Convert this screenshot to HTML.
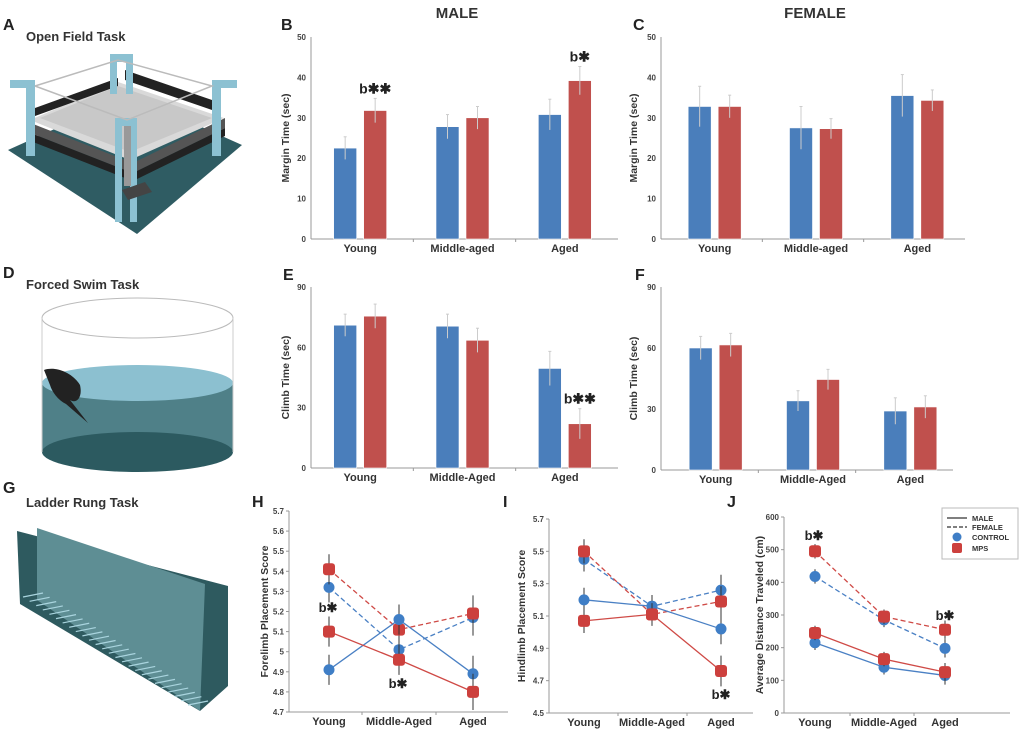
<!DOCTYPE html>
<html><head><meta charset="utf-8"><style>
html,body{margin:0;padding:0;background:#fff;}
svg{display:block;font-family:"Liberation Sans",Arial,sans-serif;}
.tick{font-size:8px;font-weight:bold;fill:#444;}
.cat{font-size:11px;font-weight:bold;fill:#333;}
.ttl{font-size:10.5px;font-weight:bold;fill:#333;}
.lbl{font-size:16px;font-weight:bold;fill:#222;}
.task{font-size:13px;font-weight:bold;fill:#333;}
</style></head><body>
<svg id="fig" width="1020" height="734" viewBox="0 0 1020 734">
<!-- Illustrations -->
<g>
<polygon points="8,150 130,95 242,145 137,234" fill="#2f5c63"/>
<polygon points="30,120 118,82 224,118 130,160" fill="#d9d9d9"/>
<polygon points="40,118 118,86 212,118 130,152" fill="#c8c8c8"/>
<polygon points="35,108 118,78 118,86 35,116" fill="#222"/>
<polygon points="125,70 212,100 212,110 125,80" fill="#222"/>
<polygon points="28,122 125,160 125,170 28,132" fill="#555"/>
<polygon points="28,132 125,170 125,178 28,140" fill="#222"/>
<polygon points="135,162 225,118 225,128 135,172" fill="#555"/>
<polygon points="135,172 225,128 225,136 135,180" fill="#222"/>
<rect x="10" y="80" width="25" height="8" fill="#8cc1d2"/><rect x="26" y="80" width="9" height="76" fill="#8cc1d2"/>
<rect x="110" y="54" width="23" height="8" fill="#8cc1d2"/><rect x="110" y="54" width="7" height="40" fill="#8cc1d2"/><rect x="126" y="54" width="7" height="40" fill="#8cc1d2"/>
<rect x="212" y="80" width="25" height="8" fill="#8cc1d2"/><rect x="212" y="80" width="9" height="76" fill="#8cc1d2"/>
<rect x="115" y="118" width="22" height="8" fill="#8cc1d2"/><rect x="115" y="118" width="7" height="104" fill="#8cc1d2"/><rect x="130" y="118" width="7" height="104" fill="#8cc1d2"/>
<rect x="124" y="126" width="7" height="60" fill="#999"/>
<polygon points="122,190 145,182 152,192 128,200" fill="#444"/>
<polyline points="35,86 118,60 212,86 127,120 35,86" fill="none" stroke="#bbb" stroke-width="1.5"/>
</g>
<g>
<rect x="42" y="383" width="191" height="69" fill="#4f8088"/>
<ellipse cx="137.5" cy="452" rx="95.5" ry="20" fill="#2c5a60"/>
<ellipse cx="137.5" cy="383" rx="95.5" ry="18" fill="#8cc0d0"/>
<ellipse cx="137.5" cy="318" rx="95.5" ry="20" fill="none" stroke="#bbb" stroke-width="1"/>
<line x1="42" y1="318" x2="42" y2="452" stroke="#ccc"/><line x1="233" y1="318" x2="233" y2="452" stroke="#ccc"/>
<path d="M44,370 C55,366 72,372 80,385 C83,398 76,404 70,400 L88,423 L66,404 C58,400 52,392 50,385 Z" fill="#222"/>
</g>
<g>
<polygon points="17,531 228,586 228,686 200,711 20,604" fill="#2e5a5f"/>
<polygon points="37,528 205,584 200,711 37,600" fill="#5e8e94"/>
<g id="rungs" stroke="#a9d4de" stroke-width="1.2"></g>
</g>
<text class="lbl" x="3" y="30">A</text>
<text class="task" x="26" y="41">Open Field Task</text>
<text class="lbl" x="3" y="278">D</text>
<text class="task" x="26" y="289">Forced Swim Task</text>
<text class="lbl" x="3" y="493">G</text>
<text class="task" x="26" y="507">Ladder Rung Task</text>
<text x="457" y="18" text-anchor="middle" style="font-size:15px;font-weight:bold;fill:#333">MALE</text>
<text x="815" y="18" text-anchor="middle" style="font-size:15px;font-weight:bold;fill:#333">FEMALE</text>
<text class="lbl" x="281" y="30">B</text>
<text class="lbl" x="633" y="30">C</text>
<text class="lbl" x="283" y="280">E</text>
<text class="lbl" x="635" y="280">F</text>
<text class="lbl" x="252" y="507">H</text>
<text class="lbl" x="503" y="507">I</text>
<text class="lbl" x="727" y="507">J</text>
</svg>
<script>
// ---- Bar chart data ----
const barCats = ["Young","Middle-aged","Aged"];
const barCatsE = ["Young","Middle-Aged","Aged"];
const bCtrl = [22.5, 27.8, 30.8];
const bCtrlErr = [2.8, 3.0, 3.8];
const bMps = [31.8, 30.0, 39.2];
const bMpsErr = [3.0, 2.8, 3.5];
const cCtrl = [32.8, 27.5, 35.5];
const cCtrlErr = [5.0, 5.3, 5.2];
const cMps = [32.8, 27.3, 34.3];
const cMpsErr = [2.8, 2.5, 2.6];
const eCtrl = [71, 70.5, 49.5];
const eCtrlErr = [5.5, 6, 8.5];
const eMps = [75.5, 63.5, 22];
const eMpsErr = [6, 6, 7.5];
const fCtrl = [60, 34, 29];
const fCtrlErr = [5.7, 5, 6.5];
const fMps = [61.5, 44.5, 31];
const fMpsErr = [5.7, 5, 5.5];
const marginTicks = [0,10,20,30,40,50];
const climbTicks = [0,30,60,90];
// ---- Line chart data ----
const lineCats = ["Young","Middle-Aged","Aged"];
const hMaleCtrl = [4.91, 5.16, 4.89];
const hMaleMps = [5.10, 4.96, 4.80];
const hFemCtrl = [5.32, 5.01, 5.17];
const hFemMps = [5.41, 5.11, 5.19];
const hErr = [0.075, 0.075, 0.09];
const iMaleCtrl = [5.20, 5.16, 5.02];
const iMaleMps = [5.07, 5.11, 4.76];
const iFemCtrl = [5.45, 5.16, 5.26];
const iFemMps = [5.50, 5.11, 5.19];
const iErr = [0.075, 0.07, 0.095];
const jMaleCtrl = [215, 140, 115];
const jMaleMps = [245, 165, 125];
const jFemCtrl = [418, 285, 198];
const jFemMps = [495, 295, 255];
const jErr = [22, 22, 28];
const hTicks = [4.7,4.8,4.9,5.0,5.1,5.2,5.3,5.4,5.5,5.6,5.7];
const iTicks = [4.5,4.7,4.9,5.1,5.3,5.5,5.7];
const jTicks = [0,100,200,300,400,500,600];

const NS = "http://www.w3.org/2000/svg";
const svg = document.getElementById('fig');
function el(tag, attrs, parent){ const e=document.createElementNS(NS,tag); for(const k in attrs) e.setAttribute(k,attrs[k]); (parent||svg).appendChild(e); return e; }
function txt(s, attrs, parent){ const e=el('text',attrs,parent); e.textContent=s; return e; }

// ladder rungs
const rg=document.getElementById('rungs');
for(let k=0;k<26;k++){ const t=k/25; const x=37+t*165, y=600+t*108;
  const r=el('line',{x1:x-14,y1:y-3,x2:x+6,y2:y-7},rg);
  
  
}

function barChart(o){
  const g=el('g',{});
  
  
  const y=v=>o.y0-(v/o.max)*(o.y0-o.y1);
  const band=(o.x1-o.x0)/3;
  const cx=i=>o.x0+band*(i+0.5)+o.shift;
  el('line',{x1:o.x0,y1:o.y1,x2:o.x0,y2:o.y0,stroke:'#999'},g);
  el('line',{x1:o.x0,y1:o.y0,x2:o.x1,y2:o.y0,stroke:'#999'},g);
  o.ticks.forEach(t=>{
    const tl=txt(String(t),{x:o.x0-5,y:y(t)+3,'text-anchor':'end',class:'tick'},g);
    
    
  });
  [1,2].forEach(i=>el('line',{x1:o.x0+band*i,y1:o.y0,x2:o.x0+band*i,y2:o.y0+3,stroke:'#999'},g));
  o.cats.forEach((c,i)=>{
    const t=txt(c,{x:cx(i),y:o.y0+13,'text-anchor':'middle',class:'cat'},g);
    
    
    [[o.ctrl,o.ctrlErr,'#4a7ebb',-15,'bar-control'],[o.mps,o.mpsErr,'#c0504d',15,'bar-mps']].forEach(s=>{
      const v=s[0][i], e=s[1][i], x=cx(i)+s[3];
      const r=el('rect',{x:x-11.5,y:y(v),width:23,height:o.y0-y(v),fill:s[2],stroke:'#fff','stroke-width':0.6},g);
      
      
      el('line',{x1:x,y1:y(v+e),x2:x,y2:y(v-e),stroke:'#ccc','stroke-width':1},g);
      el('line',{x1:x-1.5,y1:y(v+e),x2:x+1.5,y2:y(v+e),stroke:'#ccc','stroke-width':1},g);
    });
  });
  (o.notes||[]).forEach(n=>{
    const x=cx(n.i)+15, v=o.mps[n.i]+o.mpsErr[n.i];
    const t=txt(n.s,{x:x,y:y(v)-5,'text-anchor':'middle',style:'font-size:14px;font-weight:bold;fill:#222'},g);
    
    
  });
  const tt=txt(o.title,{transform:`translate(${o.tx},${(o.y0+o.y1)/2}) rotate(-90)`,'text-anchor':'middle',class:'ttl'},g);
  
  
}
barChart({name:'chart-b-male-margin',x0:311,x1:618,y0:239,y1:37,max:50,shift:-2,ticks:marginTicks,cats:barCats,ctrl:bCtrl,ctrlErr:bCtrlErr,mps:bMps,mpsErr:bMpsErr,title:'Margin Time (sec)',tx:289,notes:[{i:0,s:'b✱✱'},{i:2,s:'b✱'}]});
barChart({name:'chart-c-female-margin',x0:661,x1:965,y0:239,y1:37,max:50,shift:3,ticks:marginTicks,cats:barCats,ctrl:cCtrl,ctrlErr:cCtrlErr,mps:cMps,mpsErr:cMpsErr,title:'Margin Time (sec)',tx:637});
barChart({name:'chart-e-male-climb',x0:311,x1:618,y0:468,y1:287,max:90,shift:-2,ticks:climbTicks,cats:barCatsE,ctrl:eCtrl,ctrlErr:eCtrlErr,mps:eMps,mpsErr:eMpsErr,title:'Climb Time (sec)',tx:289,notes:[{i:2,s:'b✱✱'}]});
barChart({name:'chart-f-female-climb',x0:661,x1:953,y0:470,y1:287,max:90,shift:6,ticks:climbTicks,cats:barCatsE,ctrl:fCtrl,ctrlErr:fCtrlErr,mps:fMps,mpsErr:fMpsErr,title:'Climb Time (sec)',tx:637});

function lineChart(o){
  const g=el('g',{});
  
  
  const y=v=>o.y0-(v-o.min)/(o.max-o.min)*(o.y0-o.y1);
  const x=i=>o.xs[i];
  el('line',{x1:o.x0,y1:o.y1,x2:o.x0,y2:o.y0,stroke:'#999'},g);
  el('line',{x1:o.x0,y1:o.y0,x2:o.x1,y2:o.y0,stroke:'#999'},g);
  o.xt.forEach(t=>el('line',{x1:t,y1:o.y0,x2:t,y2:o.y0+3,stroke:'#999'},g));
  o.ticks.forEach(t=>{
    el('line',{x1:o.x0-3,y1:y(t),x2:o.x0,y2:y(t),stroke:'#999'},g);
    const s=o.fmt?o.fmt(t):String(t);
    const tl=txt(s,{x:o.x0-5,y:y(t)+3,'text-anchor':'end',class:'tick'},g);
    
    
  });
  o.cats.forEach((c,i)=>{
    const t=txt(c,{x:x(i),y:o.y0+13,'text-anchor':'middle',class:'cat'},g);
    
    
  });
  const series=[[o.fc,'#4a80c4',true,'circle','female-control-line'],[o.fm,'#cf4a46',true,'square','female-mps-line'],[o.mc,'#4a80c4',false,'circle','male-control-line'],[o.mm,'#cf4a46',false,'square','male-mps-line']];
  series.forEach(s=>{
    const pts=s[0].map((v,i)=>x(i)+','+y(v)).join(' ');
    const pl=el('polyline',{points:pts,fill:'none',stroke:s[1],'stroke-width':1.3,'stroke-dasharray':s[2]?'5,3':'none'},g);
    
    
  });
  series.forEach(s=>{
    s[0].forEach((v,i)=>{
      const e=o.err[i];
      el('line',{x1:x(i),y1:y(v+(o.errAbs?e:e)),x2:x(i),y2:y(v-e),stroke:'#333','stroke-width':1},g);
      let m;
      if(s[3]==='circle') m=el('circle',{cx:x(i),cy:y(v),r:5.5,fill:'#3f7ec6'},g);
      else m=el('rect',{x:x(i)-6,y:y(v)-6,width:12,height:12,rx:3,fill:'#cc403d'},g);
      
      
    });
  });
  (o.notes||[]).forEach(n=>{
    const t=txt('b✱',{x:n.x,y:n.y,'text-anchor':'middle',style:'font-size:13px;font-weight:bold;fill:#222'},g);
    
    
  });
  const tt=txt(o.title,{transform:`translate(${o.tx},${(o.y0+o.y1)/2}) rotate(-90)`,'text-anchor':'middle',class:'ttl'},g);
  
  
}
lineChart({name:'chart-h-forelimb',x0:289,x1:508,y0:712,y1:511,min:4.7,max:5.7,xs:[329,399,473],xt:[362,436],ticks:hTicks,fmt:t=>(Math.abs(t-5)<1e-9?'5':t.toFixed(1)),cats:lineCats,mc:hMaleCtrl,mm:hMaleMps,fc:hFemCtrl,fm:hFemMps,err:hErr,title:'Forelimb Placement Score',tx:268,notes:[{x:328,y:612},{x:398,y:688}]});
lineChart({name:'chart-i-hindlimb',x0:549,x1:753,y0:713,y1:519,min:4.5,max:5.7,xs:[584,652,721],xt:[618,687],ticks:iTicks,fmt:t=>t.toFixed(1),cats:lineCats,mc:iMaleCtrl,mm:iMaleMps,fc:iFemCtrl,fm:iFemMps,err:iErr,title:'Hindlimb Placement Score',tx:525,notes:[{x:721,y:699}]});
lineChart({name:'chart-j-distance',x0:784,x1:1010,y0:713,y1:517,min:0,max:600,xs:[815,884,945],xt:[850,914],ticks:jTicks,cats:lineCats,mc:jMaleCtrl,mm:jMaleMps,fc:jFemCtrl,fm:jFemMps,err:jErr,title:'Average Distance Traveled (cm)',tx:763,notes:[{x:814,y:540},{x:945,y:620}]});

// legend
const lg=el('g',{});


el('rect',{x:942,y:508,width:76,height:51,fill:'#fff',stroke:'#bbb'},lg);
el('line',{x1:947,y1:518,x2:967,y2:518,stroke:'#333','stroke-width':1.2},lg);
el('line',{x1:947,y1:527,x2:967,y2:527,stroke:'#333','stroke-width':1.2,'stroke-dasharray':'4,2'},lg);
el('circle',{cx:957,cy:537,r:4.5,fill:'#3f7ec6'},lg);
el('rect',{x:952,y:543,width:10,height:10,rx:2,fill:'#cc403d'},lg);
[['MALE',521,'legend-entry-male'],['FEMALE',530,'legend-entry-female'],['CONTROL',540,'legend-entry-control'],['MPS',551,'legend-entry-mps']].forEach(l=>{
  const t=txt(l[0],{x:972,y:l[1],style:'font-size:7.5px;font-weight:bold;fill:#333'},lg);
  
  
});
</script>
</body></html>
